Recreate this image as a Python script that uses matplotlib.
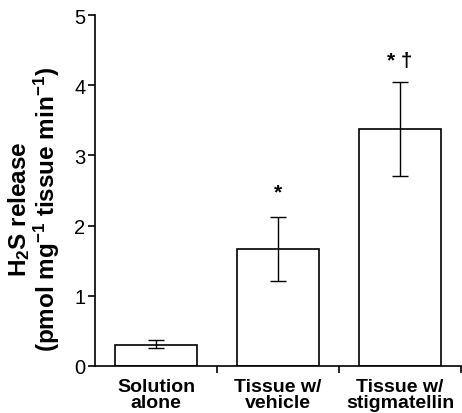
import matplotlib.pyplot as plt
import numpy as np

plt.rcParams['font.family'] = ['Liberation Sans', 'DejaVu Sans']
plt.rcParams['mathtext.fontset'] = 'custom'
plt.rcParams['mathtext.bf'] = 'Liberation Sans:bold'
plt.rcParams['mathtext.rm'] = 'Liberation Sans:bold'
plt.rcParams['mathtext.default'] = 'bf'

## Groups and measured H2S release (pmol mg-1 tissue min-1)
groups = ['Solution\nalone', 'Tissue w/\nvehicle', 'Tissue w/\nstigmatellin']
release = [0.30, 1.66, 3.38]
err_lo = [0.05, 0.45, 0.68]
err_hi = [0.07, 0.46, 0.67]
marks = ['', '*', '* \u2020']
mark_y = [0, 2.48, 4.35]

fig = plt.figure(figsize=(4.62, 4.14), dpi=100)
ax = fig.add_axes([95/462, 47/414, 366/462, 351/414])

x = np.arange(len(groups))
ax.bar(x, release, width=0.67, color='white', edgecolor='black', linewidth=1.2)
ax.errorbar(x, release, yerr=[err_lo, err_hi], fmt='none', ecolor='black',
            elinewidth=1.0, capsize=6, capthick=1.0)

for xi, m, my in zip(x, marks, mark_y):
   if m:
      ax.text(xi, my, m, ha='center', va='center', fontsize=15, fontweight='bold')

## Tidy things up
ax.set_xlim(-0.5, 2.5)
ax.set_ylim(0, 5)
ax.set_yticks([0, 1, 2, 3, 4, 5])
ax.tick_params(axis='y', labelsize=14.5, direction='out', length=5, width=1.2, pad=2)
ax.set_xticks(x)
ax.set_xticklabels(groups, fontsize=14, fontweight='bold', linespacing=0.85)
ax.tick_params(axis='x', length=0, pad=9)
ax.set_xticks([0.5, 1.5, 2.5], minor=True)
ax.tick_params(axis='x', which='minor', direction='out', length=5, width=1.2)
ax.spines['top'].set_visible(False)
ax.spines['right'].set_visible(False)
ax.spines['left'].set_linewidth(1.2)
ax.spines['bottom'].set_linewidth(1.2)
ax.set_ylabel('H$_2$S release\n(pmol mg$^{-1}$ tissue min$^{-1}$)', fontsize=17.5,
              fontweight='bold', linespacing=1.0)
ax.yaxis.set_label_coords(-0.09, 0.45)

fig.savefig('out.png', dpi=100)
